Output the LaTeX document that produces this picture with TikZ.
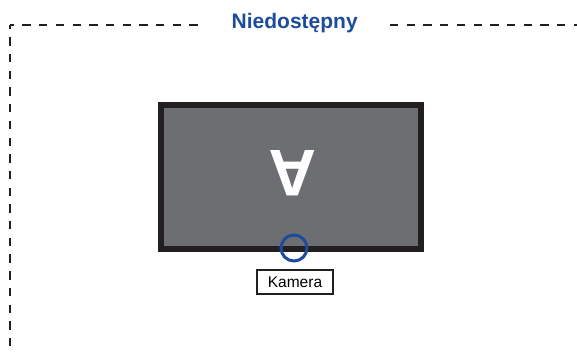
\documentclass[tikz,border=0pt]{standalone}
\usepackage{fontspec}
\setmainfont{Liberation Sans}
\definecolor{inkdark}{HTML}{231F20}
\definecolor{screengray}{HTML}{6D6E71}
\definecolor{markblue}{HTML}{1D4C9E}

\begin{document}
\begin{tikzpicture}[x=1pt,y=-1pt]
    \tikzstyle{zone}=[draw=inkdark,line width=2pt,dash pattern=on 8.3pt off 8.4pt]
    \tikzstyle{screen}=[draw=inkdark,fill=screengray,line width=6pt,minimum width=260pt,minimum height=144pt,inner sep=0pt]
    \tikzstyle{glyph}=[text=white,font=\fontsize{66}{66}\selectfont\bfseries,inner sep=0pt]
    \tikzstyle{cam}=[circle,draw=markblue,line width=3pt,minimum size=26pt,inner sep=0pt]
    \tikzstyle{tag}=[draw=inkdark,fill=white,line width=1.6pt,minimum width=76pt,minimum height=24pt,inner sep=0pt,font=\fontsize{15.5}{16}\selectfont]
    \tikzstyle{title}=[text=markblue,font=\fontsize{21}{22}\selectfont\bfseries,inner sep=0pt]

    \useasboundingbox (0,0) rectangle (577,352);

    % dashed zone border
    \coordinate (corner) at (10,25);
    \coordinate (topend) at (198,25);
    \coordinate (rightstart) at (390,25);
    \coordinate (rightend) at (577,25);
    \coordinate (leftend) at (10,352);
    \draw[zone,dash phase=4.3pt] (corner) -- (topend);
    \draw[zone,dash phase=4.3pt] (corner) -- (leftend);
    \draw[zone] (rightstart) -- (rightend);

    \node[title,anchor=base] (title) at (294.7,29) {Niedostępny};

    % display
    \node[screen] (screen) at (291,177) {};
    \node[glyph,rotate=180] (letter) at (293,173) {A};

    % camera
    \node[cam] (camera) at (294,248) {};
    \node[tag] (camlabel) at (295,282) {Kamera};

\end{tikzpicture}
\end{document}
